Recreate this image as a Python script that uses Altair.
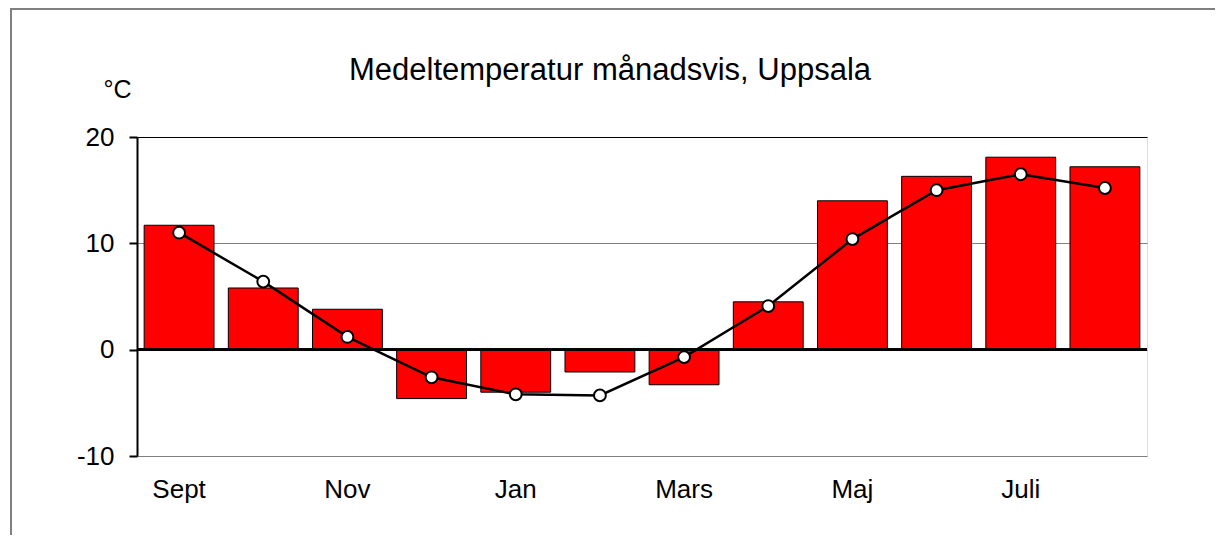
import altair as alt
import pandas as pd

months = ["Sept", "Okt", "Nov", "Dec", "Jan", "Feb", "Mars", "April", "Maj", "Juni", "Juli", "Aug"]
shown_labels = ["Sept", "Nov", "Jan", "Mars", "Maj", "Juli"]
bar_values = [11.7, 5.8, 3.8, -4.6, -4.0, -2.1, -3.3, 4.5, 14.0, 16.3, 18.1, 17.2]
line_values = [11.0, 6.4, 1.2, -2.6, -4.2, -4.3, -0.7, 4.1, 10.4, 15.0, 16.5, 15.2]
y_ticks = [-10, 0, 10, 20]
title_text = "Medeltemperatur månadsvis, Uppsala"

df = pd.DataFrame({"month": months, "bar": bar_values, "line": line_values})

FONT = "Liberation Sans"

x_enc = alt.X(
    "month:N",
    sort=months,
    scale=alt.Scale(paddingInner=0.17, paddingOuter=0.085),
    axis=alt.Axis(
        values=shown_labels, ticks=False, domain=False, grid=False,
        labelAngle=0, labelFontSize=26, labelFont=FONT, labelColor="black",
        labelPadding=20, title=None,
    ),
)

y_scale = alt.Scale(domain=[-10, 20], nice=False, zero=False)
y_axis = alt.Axis(
    values=y_ticks, grid=True,
    gridColor=alt.condition("datum.value == 20", alt.value("black"), alt.value("#808080")),
    gridWidth=1,
    domain=True, domainColor="black", domainWidth=2,
    ticks=True, tickColor="black", tickWidth=2, tickSize=8,
    labelFontSize=26, labelFont=FONT, labelColor="black", labelPadding=15,
    labelExpr="'' + datum.value",
    title="°C", titleAngle=0, titleFont=FONT, titleFontSize=25, titleFontWeight="normal",
    titleColor="black", titleX=-20, titleY=-40, titleAlign="center", titleBaseline="alphabetic",
)

base = alt.Chart(df)

bars = base.mark_bar(color="#FF0000", stroke="black", strokeWidth=1).encode(
    x=x_enc,
    y=alt.Y("bar:Q", scale=y_scale, axis=y_axis),
)

zero = alt.Chart(df).mark_rule(color="black", strokeWidth=2).encode(y=alt.datum(0))

line = base.mark_line(color="black", strokeWidth=2.5).encode(
    x=x_enc, y=alt.Y("line:Q", scale=y_scale)
)
points = base.mark_point(
    filled=True, fill="white", stroke="black", strokeWidth=2, size=140, opacity=1
).encode(x=x_enc, y=alt.Y("line:Q", scale=y_scale))

border = alt.Chart(alt.Data(values=[{}])).mark_rect(
    fill="transparent", stroke="#808080", strokeWidth=2, clip=False
).encode(
    x=alt.value(-126), x2=alt.value(1300), y=alt.value(-128), y2=alt.value(700)
)

title = alt.Chart(alt.Data(values=[{"t": title_text}])).mark_text(
    font=FONT, fontSize=31, color="black", align="center", baseline="alphabetic"
).encode(text="t:N", x=alt.value(473), y=alt.value(-57))

chart = alt.layer(border, bars, zero, line, points, title).properties(
    width=1010,
    height=319,
    autosize=alt.AutoSizeParams(type="none"),
    padding={"left": 129, "top": 129, "right": 68, "bottom": 79},
).configure_view(stroke=None).configure(background="white")

chart.save("out.html", embed_options={"renderer": "svg", "actions": False})
